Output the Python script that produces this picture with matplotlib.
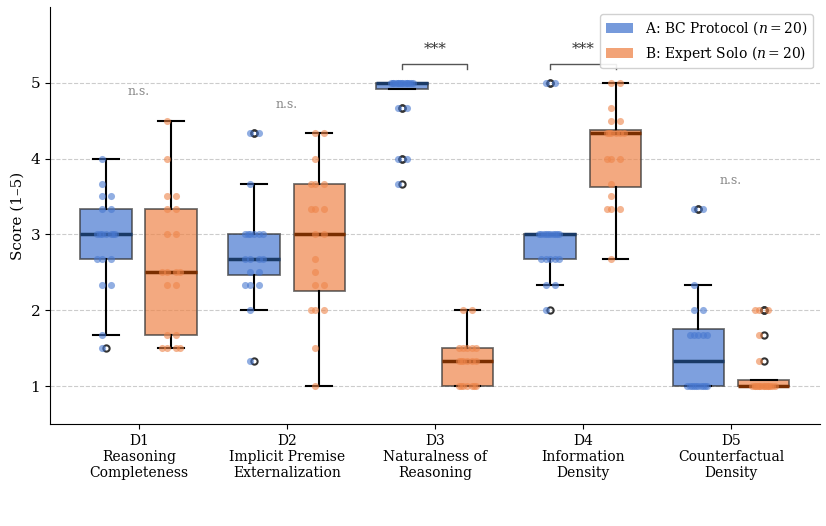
import numpy as np
import matplotlib.pyplot as plt
from matplotlib.patches import Patch

plt.rcParams['font.family'] = ['DejaVu Serif']
plt.rcParams['mathtext.fontset'] = 'dejavuserif'

dims = ['D1\nReasoning\nCompleteness', 'D2\nImplicit Premise\nExternalization',
        'D3\nNaturalness of\nReasoning', 'D4\nInformation\nDensity',
        'D5\nCounterfactual\nDensity']

# scores per dimension, n = 20 each
bc_protocol = [
    [1.5, 1.67, 2.33, 2.33, 2.67, 2.67, 2.67, 3, 3, 3, 3, 3, 3, 3, 3.33, 3.33, 3.5, 3.5, 3.67, 4],
    [1.33, 2, 2.33, 2.33, 2.33, 2.5, 2.5, 2.67, 2.67, 2.67, 2.67, 3, 3, 3, 3, 3, 3, 3.67, 4.33, 4.33],
    [3.67, 4, 4, 4.67, 4.67, 5, 5, 5, 5, 5, 5, 5, 5, 5, 5, 5, 5, 5, 5, 5],
    [2, 2.33, 2.33, 2.67, 2.67, 2.67, 2.67, 2.67, 3, 3, 3, 3, 3, 3, 3, 3, 3, 3, 5, 5],
    [1, 1, 1, 1, 1, 1, 1, 1, 1, 1, 1.67, 1.67, 1.67, 1.67, 1.67, 2, 2, 2.33, 3.33, 3.33],
]
expert_solo = [
    [1.5, 1.5, 1.5, 1.5, 1.67, 1.67, 2.33, 2.33, 2.5, 2.5, 2.5, 2.5, 3, 3, 3.33, 3.33, 3.5, 3.5, 4, 4.5],
    [1, 1.5, 2, 2, 2, 2.33, 2.33, 2.5, 2.67, 3, 3, 3.33, 3.33, 3.33, 3.67, 3.67, 3.67, 4, 4.33, 4.33],
    [1, 1, 1, 1, 1, 1, 1, 1.33, 1.33, 1.33, 1.33, 1.33, 1.33, 1.5, 1.5, 1.5, 1.5, 1.5, 2, 2],
    [2.67, 3.33, 3.33, 3.33, 3.5, 3.67, 4, 4, 4, 4.33, 4.33, 4.33, 4.33, 4.33, 4.33, 4.5, 4.5, 4.67, 5, 5],
    [1, 1, 1, 1, 1, 1, 1, 1, 1, 1, 1, 1, 1, 1, 1, 1.33, 1.67, 2, 2, 2],
]
sig = ['n.s.', 'n.s.', '***', '***', 'n.s.']

blue = '#4878d0'
orange = '#ee854a'
blue_dark = '#1a3a66'
orange_dark = '#7a2e00'

fig = plt.figure(figsize=(8.26, 5.26), dpi=100)
ax = fig.add_axes([0.0605, 0.194, 0.932, 0.793])

x = np.arange(len(dims))
off = 0.22
w = 0.35


def draw(data, pos, col, med):
    # whis a touch above 1.5 so rounded thirds land on the right side of the fence
    ax.boxplot(data, positions=pos, widths=w, patch_artist=True, whis=1.52,
               boxprops=dict(facecolor=col, alpha=0.7, edgecolor='#333333', linewidth=1.3),
               medianprops=dict(color=med, linewidth=2.5),
               whiskerprops=dict(color='black', linewidth=1.5),
               capprops=dict(color='black', linewidth=1.5),
               flierprops=dict(marker='o', markerfacecolor='none', markeredgecolor='#333333',
                               markersize=4.5, markeredgewidth=1.5),
               zorder=2)
    # strip points, duplicates spread sideways
    spread = [-0.03, 0.03, -0.06, 0.06, 0.0, -0.045, 0.045, -0.015, 0.015, -0.075, 0.075, 0.0]
    for p, vals in zip(pos, data):
        seen = {}
        xs = []
        for v in vals:
            k = seen.get(v, 0)
            seen[v] = k + 1
            xs.append(p + spread[k % len(spread)])
        ax.scatter(xs, vals, s=26, color=col, alpha=0.6, linewidths=0, zorder=3)


draw(bc_protocol, x - off, blue, blue_dark)
draw(expert_solo, x + off, orange, orange_dark)

for i, s in enumerate(sig):
    top = max(max(bc_protocol[i]), max(expert_solo[i]))
    if s == 'n.s.':
        ax.text(x[i], top + 0.38, s, ha='center', va='center', fontsize=9, color='#888888')
    else:
        yb = 5.25
        ax.plot([x[i] - off, x[i] - off, x[i] + off, x[i] + off],
                [yb - 0.07, yb, yb, yb - 0.07], color='#555555', linewidth=1)
        ax.text(x[i], yb + 0.1, s, ha='center', va='bottom', fontsize=11, color='#333333')

ax.set_xlim(-0.6, 4.6)
ax.set_ylim(0.5, 6.0)
ax.set_xticks(x)
ax.set_xticklabels(dims, fontsize=10)
ax.set_yticks([1, 2, 3, 4, 5])
ax.tick_params(axis='y', labelsize=11)
ax.set_ylabel('Score (1–5)', fontsize=11)
ax.yaxis.grid(True, linestyle='--', color='#cccccc', linewidth=0.8)
ax.set_axisbelow(True)
ax.spines['top'].set_visible(False)
ax.spines['right'].set_visible(False)

handles = [Patch(facecolor=blue, alpha=0.75, label='A: BC Protocol ($n=20$)'),
           Patch(facecolor=orange, alpha=0.75, label='B: Expert Solo ($n=20$)')]
ax.legend(handles=handles, loc='upper right', fontsize=10, framealpha=0.9,
          borderaxespad=0.5)

fig.savefig('out.png', dpi=100)
